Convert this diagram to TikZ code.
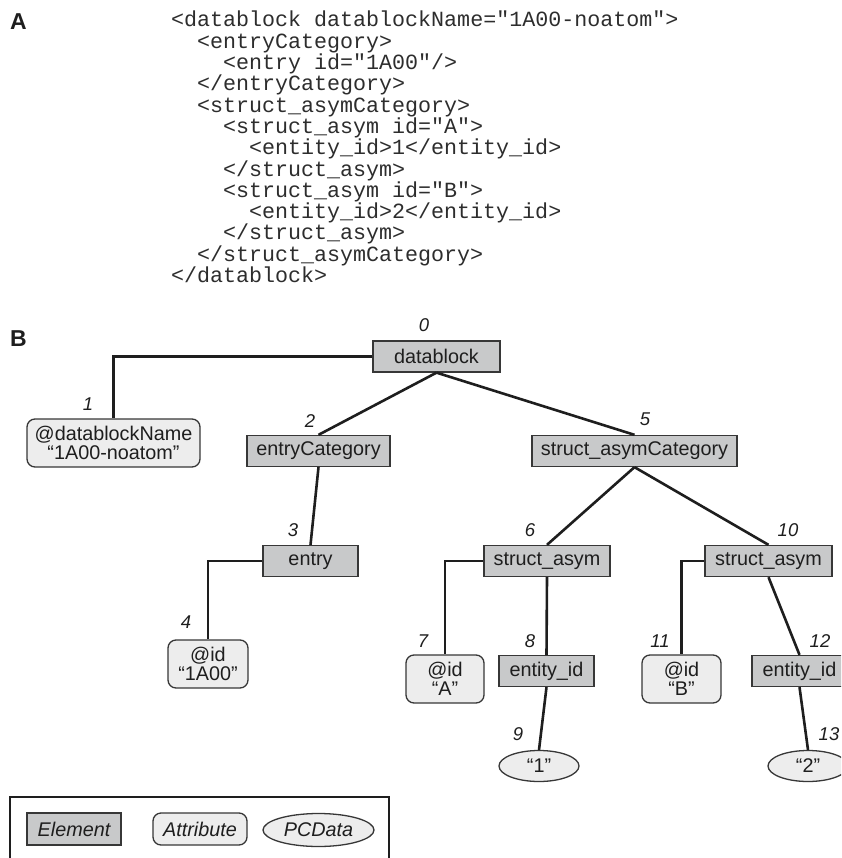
\documentclass[tikz,border=0pt]{standalone}
\usepackage{fontspec}
\setmainfont{Liberation Sans}
\newfontfamily\codefont{Liberation Mono}
\usetikzlibrary{shapes.geometric}

\definecolor{elfill}{RGB}{200,201,202}
\definecolor{atfill}{RGB}{237,237,237}
\definecolor{ln}{RGB}{30,30,30}
\definecolor{bd}{RGB}{55,55,55}
\definecolor{codecol}{RGB}{45,45,45}

\begin{document}
\begin{tikzpicture}[x=1pt,y=-1pt,
  every node/.style={font=\fontsize{19.8}{19}\selectfont, text=ln},
  elem/.style={draw=bd, line width=1.3pt, fill=elfill, rectangle, minimum height=31pt, inner sep=0pt},
  attr/.style={draw=bd, line width=1.3pt, fill=atfill, rounded corners=8pt, minimum height=48pt, inner sep=0pt, align=center},
  pcd/.style={draw=bd, line width=1.3pt, fill=atfill, ellipse, minimum width=80pt, minimum height=31pt, inner sep=0pt},
  num/.style={font=\fontsize{18.5}{19}\selectfont\itshape, inner sep=0pt},
  code/.style={font=\codefont\fontsize{21.67}{21.3}\selectfont, text=codecol, anchor=base west, inner sep=0pt},
  panel/.style={anchor=base west, inner sep=0pt},
  conn/.style={draw=ln, line width=2.6pt},
]
\useasboundingbox (0,0) rectangle (841,858);
\clip (0,0) rectangle (841,858);

% panel letters
\node[panel] (pA) at (10,30) {\fontsize{23}{25}\selectfont\bfseries A};
\node[panel] (pB) at (10,346) {\fontsize{23}{25}\selectfont\bfseries B};

% code listing
\node[code] (c1)  at (171,27.0)  {<datablock datablockName="1A00-noatom">};
\node[code] (c2)  at (197,48.3)  {<entryCategory>};
\node[code] (c3)  at (223,69.6)  {<entry id="1A00"/>};
\node[code] (c4)  at (197,90.9)  {</entryCategory>};
\node[code] (c5)  at (197,112.2) {<struct\_asymCategory>};
\node[code] (c6)  at (223,133.5) {<struct\_asym id="A">};
\node[code] (c7)  at (249,154.8) {<entity\_id>1</entity\_id>};
\node[code] (c8)  at (223,176.1) {</struct\_asym>};
\node[code] (c9)  at (223,197.4) {<struct\_asym id="B">};
\node[code] (c10) at (249,218.7) {<entity\_id>2</entity\_id>};
\node[code] (c11) at (223,240.0) {</struct\_asym>};
\node[code] (c12) at (197,261.3) {</struct\_asymCategory>};
\node[code] (c13) at (171,282.6) {</datablock>};

% tree nodes
\node[elem, minimum width=127pt] (datablock) at (436.5,356.5) {datablock};
\node[attr, minimum width=173pt] (at1) at (113.5,443) {@datablockName\\“1A00-noatom”};
\node[elem, minimum width=143pt] (entrycat) at (318.5,451) {entryCategory};
\node[elem, minimum width=205pt] (sacat) at (634.5,451) {struct\_asymCategory};
\node[elem, minimum width=95pt] (entry) at (310.5,561) {entry};
\node[attr, minimum width=80pt] (at4) at (208,664) {@id\\“1A00”};
\node[elem, minimum width=126pt] (sa6) at (547,561) {struct\_asym};
\node[elem, minimum width=127pt] (sa10) at (768.5,561) {struct\_asym};
\node[attr, minimum width=78pt] (at7) at (445,679) {@id\\“A”};
\node[elem, minimum width=95pt] (ent8) at (546.5,671) {entity\_id};
\node[attr, minimum width=79pt] (at11) at (681.5,679) {@id\\“B”};
\node[elem, minimum width=95pt] (ent12) at (799.5,671) {entity\_id};
\node[pcd] (pc9) at (539,766) {“1”};
\node[pcd] (pc13) at (808,766) {“2”};

% index labels
\node[num] (n0) at (424,325) {0};
\node[num] (n1) at (88,404) {1};
\node[num] (n2) at (310,421) {2};
\node[num] (n3) at (293,530) {3};
\node[num] (n4) at (186,622) {4};
\node[num] (n5) at (645,419) {5};
\node[num] (n6) at (530,530) {6};
\node[num] (n7) at (423,641) {7};
\node[num] (n8) at (530,641) {8};
\node[num] (n9) at (518,734) {9};
\node[num] (n10) at (788,530) {10};
\node[num] (n11) at (660,641) {11};
\node[num] (n12) at (820,641) {12};
\node[num] (n13) at (829,734) {13};

% connectors
\draw[conn] (datablock.west) -| (at1.north);
\draw[conn] (datablock.south) -- (entrycat.north);
\draw[conn] (datablock.south) -- (sacat.north);
\draw[conn] (entrycat.south) -- (entry.north);
\draw[conn] (entry.west) -| (at4.north);
\draw[conn] (sacat.south) -- (sa6.north);
\draw[conn] (sacat.south) -- (sa10.north);
\draw[conn] (sa6.west) -| (at7.north);
\draw[conn] (sa6.south) -- (ent8.north);
\draw[conn] (ent8.south) -- (pc9.north);
\draw[conn] (sa10.west) -| (at11.north);
\draw[conn] (sa10.south) -- (ent12.north);
\draw[conn] (ent12.south) -- (pc13.north);

% legend
\draw[draw=ln, line width=2.5pt] (10,797) rectangle (389,880);
\node[elem, minimum width=94pt, minimum height=32pt] (lgel) at (74,829) {\itshape Element};
\node[attr, minimum width=94pt, minimum height=32pt] (lgat) at (200,829) {\itshape Attribute};
\node[pcd, minimum width=111pt, minimum height=33pt] (lgpc) at (318.5,830) {\itshape PCData};
\end{tikzpicture}
\end{document}
